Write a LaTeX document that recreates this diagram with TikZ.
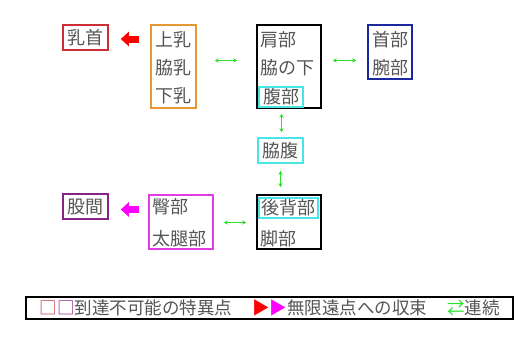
\documentclass[tikz,border=0pt]{standalone}
\usepackage{fontspec}
\newfontfamily\jpfont{Noto Sans CJK JP}
\usetikzlibrary{arrows.meta, positioning}
\usepackage{xcolor}
\definecolor{textgray}{RGB}{85,85,85}
\definecolor{boxred}{RGB}{205,45,55}
\definecolor{boxorange}{RGB}{230,150,50}
\definecolor{boxblue}{RGB}{25,40,160}
\definecolor{boxcyan}{RGB}{70,230,230}
\definecolor{boxpink}{RGB}{225,60,225}
\definecolor{boxpurple}{RGB}{135,35,135}
\definecolor{linkgreen}{RGB}{40,225,40}
\definecolor{sinkred}{RGB}{255,0,0}
\definecolor{sinkpink}{RGB}{255,0,255}

\begin{document}
\begin{tikzpicture}[x=1pt, y=-1pt,
  word/.style={font=\jpfont\fontsize{18}{20}\selectfont, text=textgray, inner sep=0pt},
  frame/.style={draw, line width=1.5pt, inner sep=0pt, font=\jpfont\fontsize{18}{20}\selectfont, text=textgray},
  link/.style={{Stealth[length=4pt,width=4pt]}-{Stealth[length=4pt,width=4pt]}, linkgreen, line width=1pt},
  sink/.style={-{Triangle[length=8pt,width=14pt]}, line width=7pt}]
\useasboundingbox (0,0) rectangle (527,343);

\node[frame, draw=boxred, minimum width=45pt, minimum height=25pt] (nipple) at (85.5,37.5) {乳首};
\node[frame, draw=boxorange, minimum width=45pt, minimum height=83pt] (breast) at (173.5,66.5) {};
\node[word, anchor=west] (upperbreast) at (155,40) {上乳};
\node[word, anchor=west] (sidebreast) at (155,68) {脇乳};
\node[word, anchor=west] (lowerbreast) at (155,95.5) {下乳};

\node[frame, draw=black, minimum width=64pt, minimum height=83pt] (shoulder) at (289,66.5) {};
\node[word, anchor=west] (shoulderline) at (260,40) {肩部};
\node[word, anchor=west] (armpit) at (260,68) {脇の下};
\node[frame, draw=boxcyan, minimum width=44pt, minimum height=20pt] (belly) at (281,97) {腹部};

\node[frame, draw=boxblue, minimum width=44pt, minimum height=54pt] (neck) at (390,52) {};
\node[word, anchor=west] (neckline) at (372,40) {首部};
\node[word, anchor=west] (arm) at (372,68) {腕部};

\node[frame, draw=boxcyan, minimum width=45pt, minimum height=25pt] (flank) at (280.5,150.5) {脇腹};

\node[frame, draw=black, minimum width=64pt, minimum height=54pt] (back) at (289,222) {};
\node[frame, draw=boxcyan, minimum width=59pt, minimum height=20pt] (backline) at (288.5,208) {後背部};
\node[word, anchor=west] (leg) at (260,238.5) {脚部};

\node[frame, draw=boxpink, minimum width=64pt, minimum height=54pt] (hip) at (181,222) {};
\node[word, anchor=west] (buttock) at (152.5,207) {臀部};
\node[word, anchor=west] (thigh) at (152.5,238.5) {太腿部};

\node[frame, draw=boxpurple, minimum width=45pt, minimum height=25pt] (crotch) at (85.5,206.5) {股間};

\draw[sink, sinkred, shorten <=11pt, shorten >=12pt] ([yshift=-1.5pt]breast.west |- nipple.east) -- ([yshift=-1.5pt]nipple.east);
\draw[link, shorten <=18pt, shorten >=19pt] ([yshift=6pt]breast.east) -- ([yshift=6pt]shoulder.west);
\draw[link, shorten <=11pt, shorten >=11pt] ([yshift=6pt]shoulder.east) -- ([yshift=6pt]shoulder.east -| neck.west);
\draw[link, shorten <=6pt, shorten >=5pt] ([xshift=0.5pt]belly.south) -- ([xshift=0.5pt]belly.south |- flank.north);
\draw[link, shorten <=7pt, shorten >=7pt] (flank.south) -- (flank.south |- back.north);
\draw[link, shorten <=10pt, shorten >=10pt] ([yshift=-0.5pt]hip.east) -- ([yshift=-0.5pt]back.west);
\draw[sink, sinkpink, shorten <=9pt, shorten >=12pt] ([yshift=-3pt]hip.west |- crotch.east) -- ([yshift=-3pt]crotch.east);

\node[draw, line width=1.5pt, minimum width=487pt, minimum height=22pt, inner sep=0pt, text=textgray, font=\jpfont\fontsize{17.5}{20}\selectfont] (legend) at (269.5,308) {{\color{boxred}□}{\color{boxpurple}□}到達不可能の特異点\hspace{20pt}{\color{sinkred}▶}{\color{sinkpink}▶}無限遠点への収束\hspace{20pt}{\color{linkgreen}⇄}連続};
\end{tikzpicture}
\end{document}
